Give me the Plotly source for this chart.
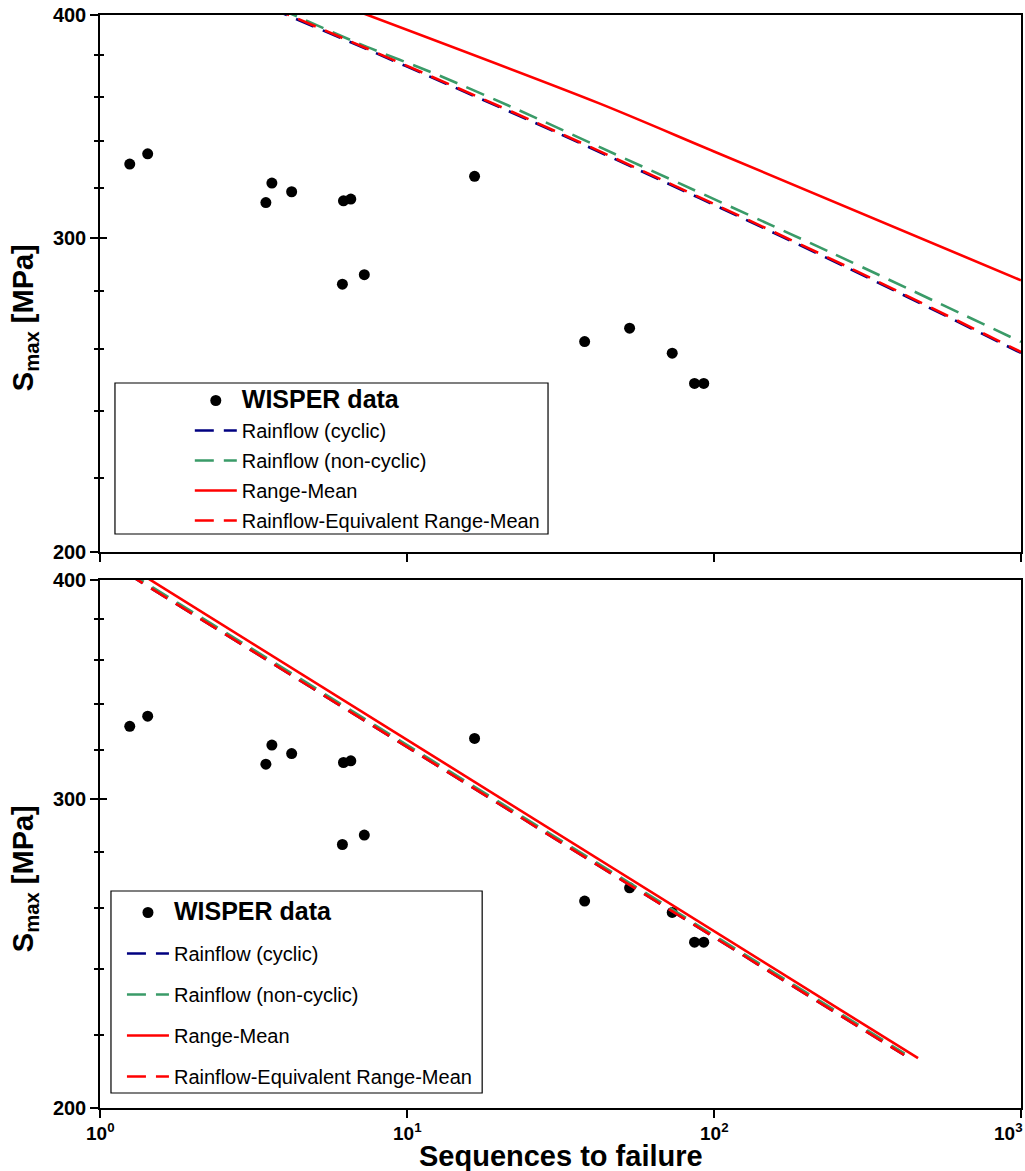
import math
import plotly.graph_objects as go

# WISPER test results: sequences to failure vs. maximum stress
wisper_n = [1.25, 1.43, 3.47, 3.63, 4.21, 6.21, 6.56, 16.6, 6.16, 7.26, 37.9, 53.1, 73.1, 86.4, 92.6]
wisper_s = [330.0, 334.4, 314.0, 322.0, 318.4, 314.7, 315.4, 324.8, 282.6, 286.1, 262.4, 267.0, 258.5, 248.6, 248.6]

# Upper panel: life predictions per counting method
top_cyc_n = [3.56, 6.62, 14.4, 31.9, 89.0, 268, 1000]
top_cyc_s = [403.8, 385.9, 364.1, 342.7, 316.0, 289.0, 258.6]
top_noncyc_n = [3.84, 6.98, 12.7, 23.1, 42.1, 241, 1000]
top_noncyc_s = [403.3, 385.5, 370.0, 353.8, 337.5, 294.3, 262.3]
top_rm_n = [6.48, 42.1, 100, 1000]
top_rm_s = [403.6, 357.0, 335.4, 284.0]
top_rfe_n = [3.62, 6.68, 14.5, 32.1, 89.5, 270, 1000]
top_rfe_s = [403.9, 386.0, 364.3, 342.9, 316.2, 289.2, 258.9]

# Lower panel: life predictions per counting method
bot_cyc_n = [1.22, 416]
bot_cyc_s = [403.5, 214.4]
bot_noncyc_n = [1.23, 418]
bot_noncyc_s = [404.2, 214.8]
bot_rm_n = [1.344, 462]
bot_rm_s = [403.5, 213.5]
bot_rfe_n = [1.22, 416]
bot_rfe_s = [403.5, 214.4]

x_tickvals = [1, 10, 100, 1000]
x_ticktext = ["10<sup>0</sup>", "10<sup>1</sup>", "10<sup>2</sup>", "10<sup>3</sup>"]
y_tickvals = [200, 300, 400]
y_minorvals = [220, 240, 260, 280, 320, 340, 360, 380]

names = ["<span style='font-size:25px'><b>WISPER data</b></span>",
         "Rainflow (cyclic)", "Rainflow (non-cyclic)", "Range-Mean",
         "Rainflow-Equivalent Range-Mean"]

NAVY = "#000080"
GREEN = "#3A9B68"
RED = "#FF0000"
DASH = "19px,10px"
LW = 2.6

fig = go.Figure()


def add_panel(xa, ya, leg, cyc, noncyc, rm, rfe, shape):
    fig.add_trace(go.Scatter(x=wisper_n, y=wisper_s, mode="markers", name=names[0],
                             marker=dict(color="black", size=11), xaxis=xa, yaxis=ya,
                             legend=leg, legendgroup=leg + "a"))
    specs = [(cyc, NAVY, DASH, names[1], "b"), (noncyc, GREEN, DASH, names[2], "c"),
             (rm, RED, "solid", names[3], "d"), (rfe, RED, DASH, names[4], "e")]
    for (xs, ys), col, dash, nm, g in specs:
        fig.add_trace(go.Scatter(x=xs, y=ys, mode="lines", name=nm,
                                 line=dict(color=col, width=LW, dash=dash, shape=shape,
                                           smoothing=0.8),
                                 xaxis=xa, yaxis=ya, legend=leg, legendgroup=leg + g))


add_panel("x", "y", "legend", (top_cyc_n, top_cyc_s), (top_noncyc_n, top_noncyc_s),
          (top_rm_n, top_rm_s), (top_rfe_n, top_rfe_s), "spline")
add_panel("x2", "y2", "legend2", (bot_cyc_n, bot_cyc_s), (bot_noncyc_n, bot_noncyc_s),
          (bot_rm_n, bot_rm_s), (bot_rfe_n, bot_rfe_s), "linear")

# empty traces so the companion tick axes are rendered
for xa, ya in (("x", "y3"), ("x2", "y4")):
    fig.add_trace(go.Scatter(x=[], y=[], mode="markers", xaxis=xa, yaxis=ya,
                             showlegend=False, hoverinfo="skip"))

L, R, T, B = 100, 2, 15, 63
W, H = 1025, 1171
PW, PH = W - L - R, H - T - B


def px_x(p):
    return (p - L) / PW


def px_y(p):
    return (H - B - p) / PH


axis_common = dict(showline=True, linecolor="black", linewidth=1.5, mirror=True,
                   showgrid=False, zeroline=False, ticks="outside", tickcolor="black",
                   tickwidth=1.5)

y_range = [math.log10(200), math.log10(400)]

xaxis_base = dict(type="log", range=[0, 3], tickvals=x_tickvals, showticklabels=False,
                  ticklen=8, **axis_common)
yaxis_base = dict(type="log", range=y_range, tickvals=y_tickvals, ticklen=8,
                  tickfont=dict(family="Liberation Sans, Arial", size=20, color="black",
                                weight="bold"),
                  minor=dict(tickvals=y_minorvals, ticks="outside", ticklen=4,
                             tickcolor="black", tickwidth=1.5),
                  **axis_common)
# companion axis carrying the inner half of the crossing y ticks
yaxis_inner = dict(type="log", range=y_range, tickvals=y_tickvals, ticks="inside",
                   ticklen=7, tickcolor="black", tickwidth=1.5, showticklabels=False,
                   showline=False, showgrid=False, zeroline=False, side="left",
                   minor=dict(tickvals=y_minorvals, ticks="inside", ticklen=4,
                              tickcolor="black", tickwidth=1.5))

top_dom = [px_y(552), 1.0]
bot_dom = [0.0, px_y(579.7)]

legend_common = dict(bgcolor="rgba(0,0,0,0)", borderwidth=0,
                     font=dict(family="Liberation Sans, Arial", size=20, color="black"),
                     itemwidth=42, xanchor="left", yanchor="top", traceorder="grouped")

fig.update_layout(
    width=W, height=H,
    margin=dict(l=L, r=R, t=T, b=B),
    paper_bgcolor="white", plot_bgcolor="white",
    font=dict(family="Liberation Sans, Arial", color="black"),
    xaxis=dict(domain=[0, 1], anchor="y", **xaxis_base),
    yaxis=dict(domain=top_dom, anchor="x", **yaxis_base),
    xaxis2=dict(domain=[0, 1], anchor="y2", **xaxis_base),
    yaxis2=dict(domain=bot_dom, anchor="x2", **yaxis_base),
    yaxis3=dict(domain=top_dom, anchor="x", overlaying="y", **yaxis_inner),
    yaxis4=dict(domain=bot_dom, anchor="x2", overlaying="y2", **yaxis_inner),
    legend=dict(x=px_x(190), y=px_y(381), tracegroupgap=1, **legend_common),
    legend2=dict(x=px_x(122), y=px_y(893), tracegroupgap=12, **legend_common),
    showlegend=True,
)

# Legend frames
fig.add_shape(type="rect", xref="paper", yref="paper",
              x0=px_x(115), x1=px_x(549), y0=px_y(534), y1=px_y(383),
              line=dict(color="black", width=1.2), fillcolor="rgba(0,0,0,0)")
fig.add_shape(type="rect", xref="paper", yref="paper",
              x0=px_x(111), x1=px_x(483), y0=px_y(1093), y1=px_y(891),
              line=dict(color="black", width=1.2), fillcolor="rgba(0,0,0,0)")

# Decade labels under the lower panel (last one kept inside the page)
for i, (tv, tt) in enumerate(zip(x_tickvals, x_ticktext)):
    last = i == len(x_tickvals) - 1
    fig.add_annotation(text="<b>" + tt + "</b>", xref="x2", yref="paper",
                       x=math.log10(tv), y=px_y(1118), xanchor="right" if last else "center",
                       yanchor="top", showarrow=False, xshift=4 if last else 0,
                       font=dict(family="Liberation Sans, Arial", size=19, color="black"))

ytitle = "<b>S<sub>max</sub> [MPa]</b>"
for yc in (318, 879):
    fig.add_annotation(text=ytitle, xref="paper", yref="paper", x=px_x(25), y=px_y(yc),
                       xanchor="center", yanchor="middle", textangle=-90, showarrow=False,
                       font=dict(family="Liberation Sans, Arial", size=29, color="black"))

fig.add_annotation(text="<b>Sequences to failure</b>", xref="paper", yref="paper",
                   x=px_x(562), y=px_y(1156), xanchor="center", yanchor="middle",
                   showarrow=False,
                   font=dict(family="Liberation Sans, Arial", size=29, color="black"))

fig.write_html("out.html")
